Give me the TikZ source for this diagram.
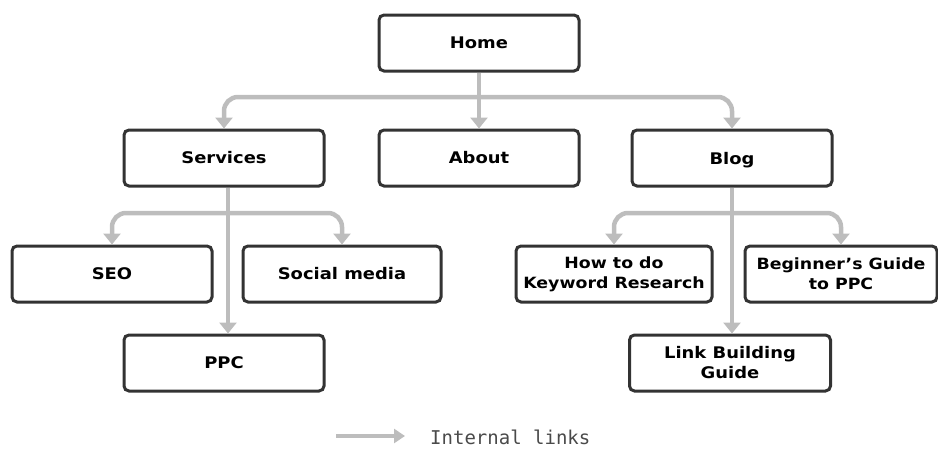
\documentclass[tikz,border=0pt]{standalone}
\usepackage{fontspec}
\setmainfont{DejaVu Sans}
\newfontfamily\boxfont[FakeStretch=1.12]{DejaVu Sans}
\newfontfamily\legendfont{DejaVu Sans Mono}
\usetikzlibrary{arrows.meta}
\definecolor{boxline}{HTML}{333333}
\definecolor{linkgray}{HTML}{BDBDBD}
\definecolor{legendtext}{HTML}{4A4A4A}
\tikzset{
  page/.style={x=1pt,y=-1pt},
  pagebox/.style={draw=boxline, line width=3pt, rounded corners=5pt, fill=white,
    minimum width=200pt, minimum height=56pt, align=center, inner sep=2pt,
    font=\boxfont\bfseries\fontsize{16}{20}\selectfont, text=black},
  link/.style={draw=linkgray, line width=4.5pt, rounded corners=14pt,
    -{Triangle[width=17pt,length=11pt]}},
}
\begin{document}
\begin{tikzpicture}[page]
\useasboundingbox (0,0) rectangle (938,448);

% top level
\node[pagebox] (home) at (479,43) {Home};
\node[pagebox] (services) at (224,158) {Services};
\node[pagebox] (about) at (479,158) {About};
\node[pagebox, text depth=0pt] (blog) at (732,158) {Blog};

% services children
\node[pagebox] (seo) at (112,274) {SEO};
\node[pagebox, minimum width=198pt] (social) at (342,274) {Social media};
\node[pagebox] (ppc) at (224,363) {PPC};

% blog children
\node[pagebox, minimum width=196pt, font=\boxfont\bfseries\fontsize{15.5}{20}\selectfont] (kw) at (614,274) {How to do\\Keyword Research};
\node[pagebox, minimum width=192pt, font=\boxfont\bfseries\fontsize{15.5}{20}\selectfont] (guide) at (841,274) {Beginner’s Guide\\to PPC};
\node[pagebox, minimum width=201pt] (linkb) at (730,363) {Link Building\\Guide};

% junction points of the branching links
\coordinate (hj) at (479,97);
\coordinate (sj) at (228,213);
\coordinate (bj) at (732,213);

% links from Home
\draw[link] (home.south) -- (about.north);
\draw[link] (hj) -| (services.north);
\draw[link] (hj) -| (blog.north);

% links from Services
\draw[link] (services.south -| sj) -- (ppc.north -| sj);
\draw[link] (sj) -| (seo.north);
\draw[link] (sj) -| (social.north);

% links from Blog
\draw[link] (blog.south -| bj) -- (linkb.north -| bj);
\draw[link] (bj) -| (kw.north);
\draw[link] (bj) -| (guide.north);

% legend
\coordinate (la) at (336,436);
\coordinate (lb) at (405,436);
\draw[link, line width=3.5pt, -{Triangle[width=14pt,length=11pt]}] (la) -- (lb);
\node[anchor=west, inner sep=0pt, text=legendtext,
  font=\legendfont\fontsize{19}{22}\selectfont] (legend) at (430,437) {Internal links};
\end{tikzpicture}
\end{document}
